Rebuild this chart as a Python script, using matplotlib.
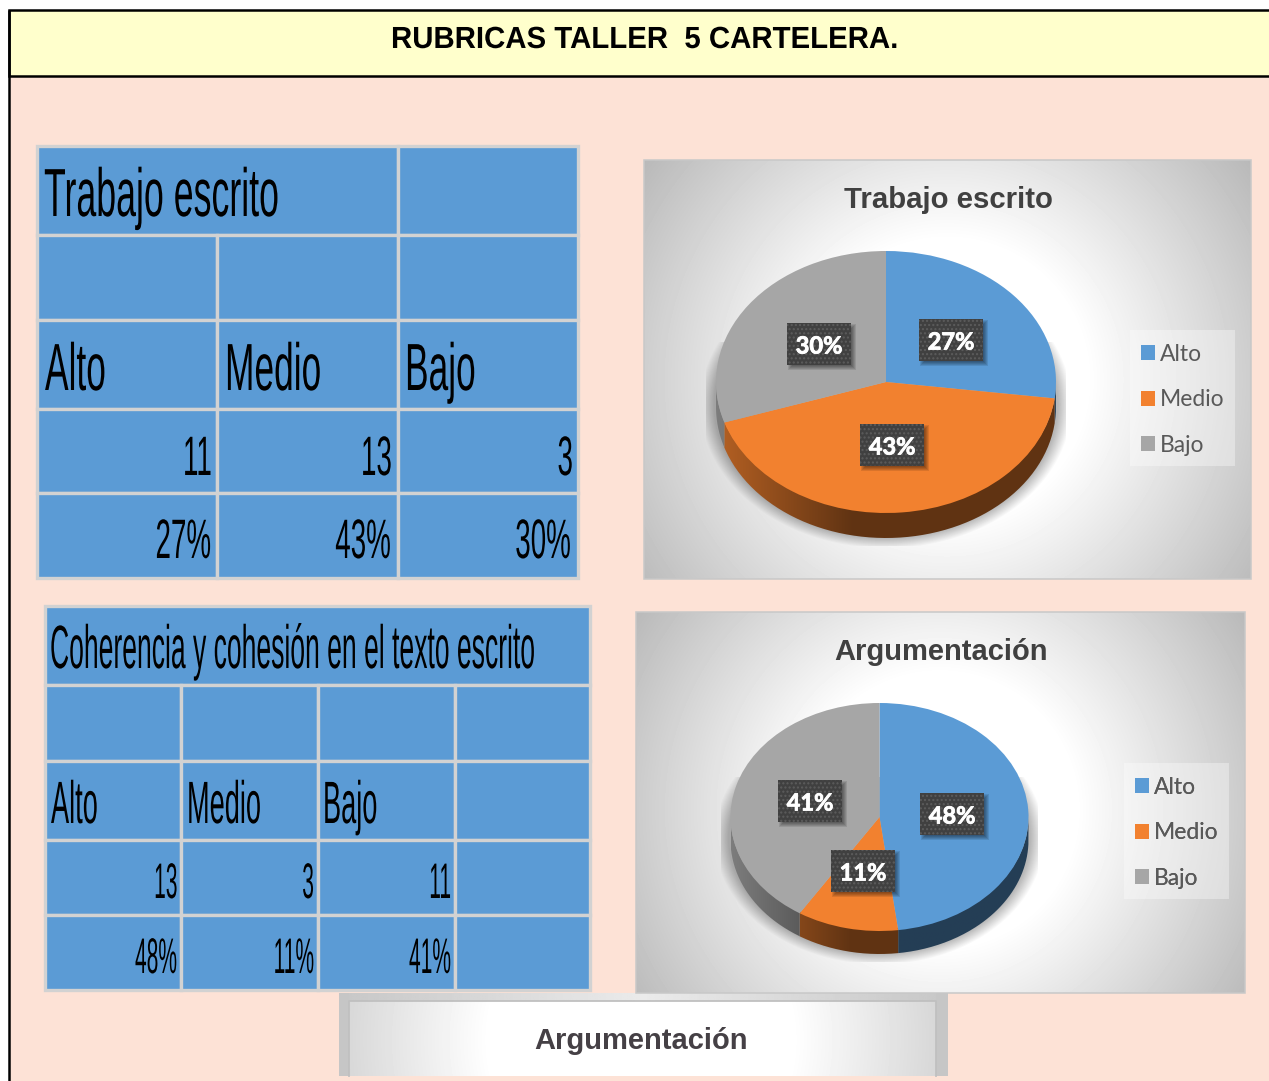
import numpy as np
import matplotlib
matplotlib.use("Agg")
import matplotlib.pyplot as plt
from matplotlib.patches import Rectangle, PathPatch
from matplotlib.path import Path
from matplotlib.patheffects import AbstractPathEffect, withStroke
from matplotlib.transforms import Affine2D

W, H = 1269, 1081

# data
categories = ["Alto", "Medio", "Bajo"]
colors = ["#5b9bd5", "#f2812f", "#a6a6a6"]
title_main = "RUBRICAS TALLER  5 CARTELERA."

table1_title = "Trabajo escrito"
table1_counts = [11, 13, 3]
table1_pct = [27, 43, 30]

table2_title = "Coherencia y cohesión en el texto escrito"
table2_counts = [13, 3, 11]
table2_pct = [48, 11, 41]

pie3_title = "Argumentación"

PEACH = "#fde2d6"
GRID = "#d2d2d2"
CELL = "#5b9bd5"
sans = ["Liberation Sans", "DejaVu Sans"]
calibri = ["Lato", "DejaVu Sans"]


class Tall(AbstractPathEffect):
    # the table text in the picture is stretched, make the glyphs taller around the baseline
    def __init__(self, sy):
        super().__init__()
        self.sy = sy

    def draw_path(self, renderer, gc, tpath, affine, rgbFace=None):
        m = affine.get_matrix().copy()
        m[1, 0] *= self.sy
        m[1, 1] *= self.sy
        renderer.draw_path(gc, tpath, Affine2D(m), rgbFace)


fig = plt.figure(figsize=(W / 100, H / 100), dpi=100, facecolor="white")
bg = fig.add_axes([0, 0, 1, 1], zorder=0)
bg.set_axis_off()
top = fig.add_axes([0, 0, 1, 1], zorder=5)
top.set_axis_off()
top.patch.set_alpha(0)


def lock(ax):
    ax.set_xlim(0, W)
    ax.set_ylim(H, 0)


def narrow(x, y, s, size, sx, ha="left", **kw):
    # size is the height wanted, sx how narrow the text is against that height
    bg.text(x, y, s, family=sans, fontsize=size * sx, color="black", ha=ha, va="baseline", zorder=4,
            path_effects=[Tall(1 / sx)], **kw)


def panel(x0, y0, x1, y1, cx, cy, pie=None, radius=None, border=True):
    xs, ys = np.meshgrid(np.arange(x0, x1) + 0.5, np.arange(y0, y1) + 0.5)
    if radius is None:
        radius = np.hypot(x1 - x0, y1 - y0) / 2
    d = np.hypot(xs - cx, ys - cy) / radius
    v = 1 - 0.27 * np.clip((d - 0.38) / 0.62, 0, 1.1)
    if pie is not None:
        px, py, rx, ry, depth = pie
        e = np.hypot((xs - px) / (rx + 2), (ys - py - depth * 0.9) / (ry + 2))
        dist = (e - 1) * rx
        a = 0.28 * np.clip(1 - dist / 14, 0, 1)
        box = (np.abs(xs - px) < rx + 10) & (ys < py + ry + depth + 8) & (ys > py - 40)
        v = v * (1 - a * box)
    bg.imshow(v, cmap="gray", vmin=0, vmax=1, extent=(x0, x1, y1, y0), aspect="auto",
              interpolation="bilinear", zorder=2)
    if border:
        bg.add_patch(Rectangle((x0, y0), x1 - x0, y1 - y0, fill=False, ec="#c8c8c8", lw=1.1, zorder=3))


def table(xs, ys, merged):
    for r in range(len(ys) - 1):
        if r == 0:
            for a, b in merged:
                bg.add_patch(Rectangle((xs[a], ys[0]), xs[b] - xs[a], ys[1] - ys[0], fc=CELL, ec=GRID, lw=2.4, zorder=2))
            continue
        for c in range(len(xs) - 1):
            bg.add_patch(Rectangle((xs[c], ys[r]), xs[c + 1] - xs[c], ys[r + 1] - ys[r], fc=CELL, ec=GRID, lw=2.4, zorder=2))


def side_wall(ax, values, depth_u):
    start = 90.0
    g = np.interp(np.linspace(-1, 1, 256), [-1, -0.2, 1], [0.75, 0.4, 0.4])
    for v, col in zip(values, colors):
        end = start - v * 3.6
        a0, a1 = max(end, -180.0), min(start, 0.0)
        if a0 < a1:
            t = np.radians(np.linspace(a0, a1, 120))
            upper = np.column_stack([np.cos(t), np.sin(t) * 0.98])
            lower = np.column_stack([np.cos(t), np.sin(t) - depth_u])[::-1]
            poly = np.vstack([upper, lower, upper[:1]])
            rgb = np.array(matplotlib.colors.to_rgb(col))
            img = (g[:, None] * rgb)[None, :, :]
            im = ax.imshow(img, extent=(-1, 1, -1.3, 0.1), aspect="auto", zorder=0.5, interpolation="bilinear")
            clip = PathPatch(Path(poly), transform=ax.transData, fc="none", ec="none")
            ax.add_patch(clip)
            im.set_clip_path(clip)
        start = end


def pie3d(cx, cy, rx, ry, depth, values):
    m = 1.25
    ax = fig.add_axes([(cx - m * rx) / W, 1 - (cy + m * ry) / H, 2 * m * rx / W, 2 * m * ry / H], zorder=2)
    wedges, _ = ax.pie(values, colors=colors, startangle=90, counterclock=False, radius=1)
    side_wall(ax, values, depth / ry)
    ax.set_aspect("auto")
    ax.set_xlim(-m, m)
    ax.set_ylim(-m, m)
    return ax, wedges


def data_label(pct, x0, y0):
    w, h = 64, 42
    for k in range(5):
        top.add_patch(Rectangle((x0 + 1 + k, y0 + 1 + k), w + 4 - 2 * k, h + 4 - 2 * k, fc="black", ec="none", alpha=0.10, zorder=1))
    top.add_patch(Rectangle((x0, y0), w, h, fc="#404040", ec="none", zorder=2))
    top.add_patch(Rectangle((x0, y0), w, h, fc="none", ec="#5c5c5c", hatch="....", lw=0, zorder=2.5))
    top.text(x0 + w / 2, y0 + h / 2 + 2, f"{pct}%", family=calibri, fontweight="bold", fontsize=17,
             color="white", ha="center", va="center", zorder=3,
             path_effects=[withStroke(linewidth=0.6, foreground="white")])


def legend_box(x0, y0, handles):
    top.add_patch(Rectangle((x0, y0), 105, 136, fc="white", ec="none", alpha=0.35, zorder=1))
    leg = top.legend(handles, categories, loc="upper left", bbox_to_anchor=(x0 + 4, y0 + 7),
                     bbox_transform=top.transData, frameon=False, prop={"family": calibri, "size": 16.5},
                     labelcolor="#595959", handlelength=0.62, handleheight=0.62, handletextpad=0.22,
                     labelspacing=1.065, borderpad=0.3, borderaxespad=0)
    top.add_artist(leg)


# page background
bg.add_patch(Rectangle((9, 10), W - 9, H - 10, fc=PEACH, ec="none", zorder=0))
bg.add_patch(Rectangle((9, 10), W, 66, fc="#ffffcc", ec="black", lw=1.8, zorder=1))
bg.plot([9, 9], [10, H], color="black", lw=1.8, zorder=1, solid_capstyle="butt")
narrow(391, 48, title_main, 22, 0.962, fontweight="bold")

# first table
table([36.5, 216.5, 397.5, 578], [146, 235, 319.5, 408.5, 493, 578], [(0, 2), (2, 3)])
narrow(44, 216, table1_title, 49, 0.525)
for name, x in zip(categories, [45, 225, 405]):
    narrow(x, 390, name, 48, 0.53)
for n, x in zip(table1_counts, [212, 392, 573]):
    narrow(x, 475, str(n), 40, 0.5, ha="right")
for p, x in zip(table1_pct, [211, 391, 571]):
    narrow(x, 558, f"{p}%", 40, 0.5, ha="right")

# second table
table([44.5, 181, 318, 454.5, 590], [606, 685, 761, 840, 915, 990], [(0, 4)])
narrow(50, 668, table2_title, 44, 0.434)
for name, x in zip(categories, [51, 187, 323]):
    narrow(x, 823, name, 43, 0.455)
for n, x in zip(table2_counts, [177.5, 314, 451]):
    narrow(x, 898, str(n), 36, 0.42, ha="right")
for p, x in zip(table2_pct, [177, 314, 451]):
    narrow(x, 973, f"{p}%", 36, 0.42, ha="right")

# chart panels
panel(644, 160, 1251, 579, 947, 380, pie=(886, 382, 170, 131, 25))
panel(636, 612, 1245, 993, 940, 810, pie=(879.5, 817, 149, 114, 23))
panel(339, 993, 948, 1076, 641, 1040, radius=400, border=False)
band = np.interp(np.linspace(0, 1, 300), [0, 0.5, 1], [0.78, 0.92, 0.78])[None, :]
bg.imshow(band, cmap="gray", vmin=0, vmax=1, extent=(339, 948, 1001, 993), aspect="auto", zorder=2.5)
for x0, x1 in [(339, 349), (936, 948)]:
    bg.add_patch(Rectangle((x0, 993), x1 - x0, 83, fc="#c6c6c6", ec="none", zorder=3))
bg.plot([349, 349, 936, 936], [1076, 1001, 1001, 1076], color="#c0c0c0", lw=1.3, zorder=3)

bg.text(948, 200, table1_title, family=sans, fontweight="bold", fontsize=21.2, color="#404040",
        ha="center", va="center", zorder=4)
bg.text(941, 652, pie3_title, family=sans, fontweight="bold", fontsize=21, color="#404040",
        ha="center", va="center", zorder=4)
bg.text(641, 1041, pie3_title, family=sans, fontweight="bold", fontsize=21, color="#454045",
        ha="center", va="center", zorder=4)
lock(bg)

ax1, w1 = pie3d(886, 382, 170, 131, 25, table1_pct)
ax2, w2 = pie3d(879.5, 817, 149, 114, 23, table2_pct)

for pct, x0, y0 in zip(table1_pct, [919, 860, 787], [319, 424, 323]):
    data_label(pct, x0, y0)
for pct, x0, y0 in zip(table2_pct, [920, 831, 778], [793, 850, 780]):
    data_label(pct, x0, y0)

legend_box(1130, 330, w1)
legend_box(1124, 763, w2)
lock(top)

fig.savefig("out.png", dpi=100)
